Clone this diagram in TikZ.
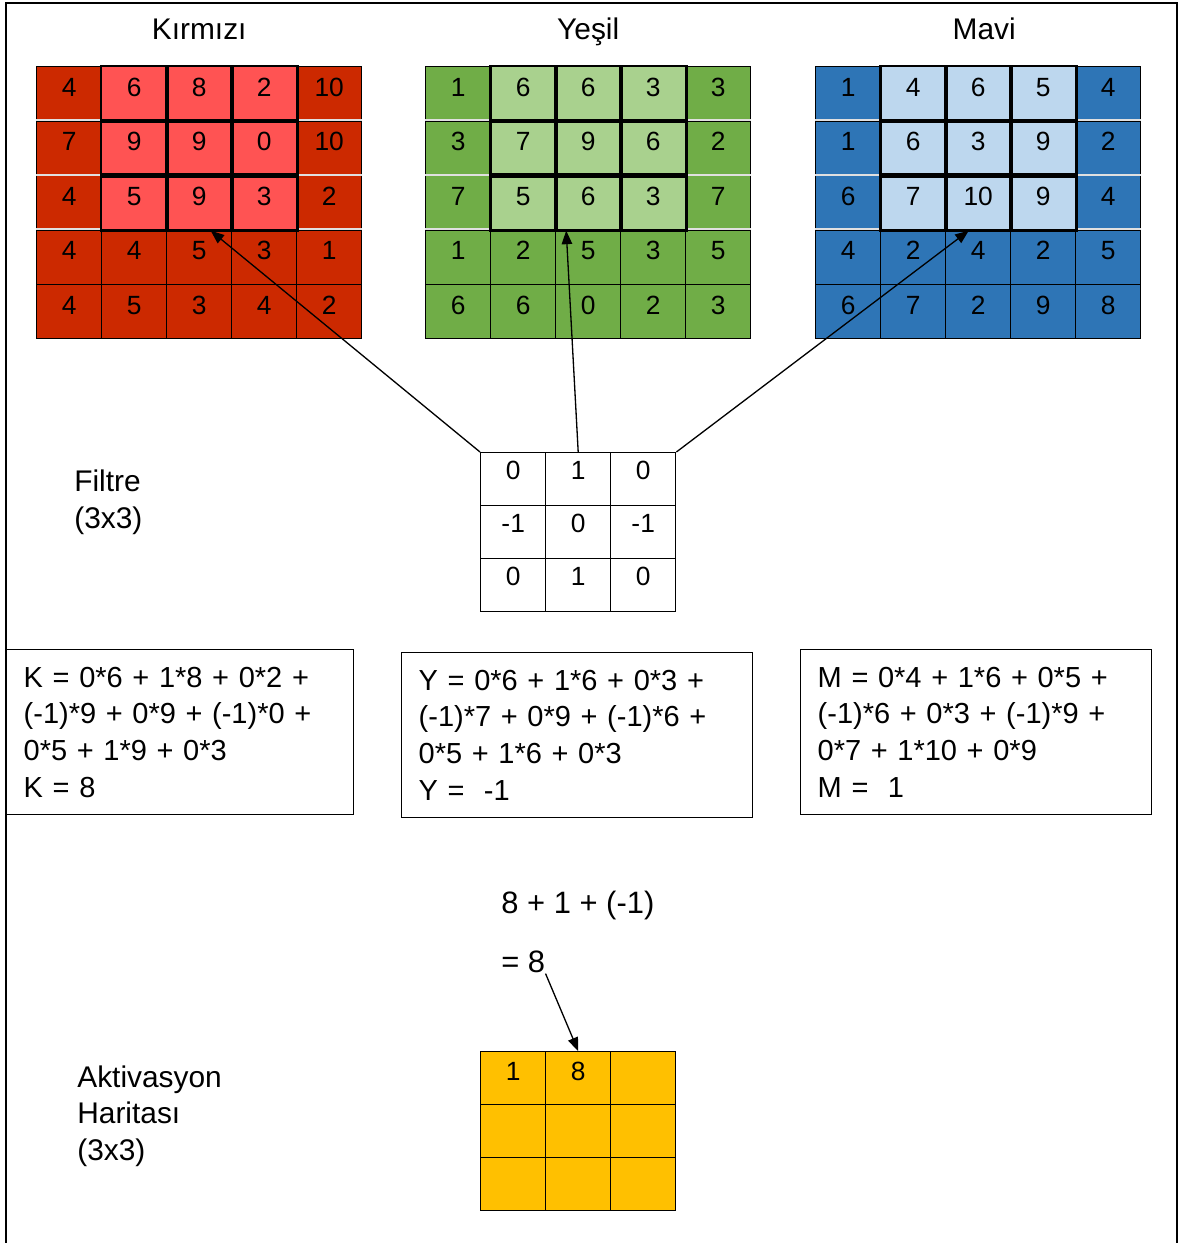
\documentclass[tikz,border=0pt]{standalone}
\usepackage{fontspec}
\setmainfont{Liberation Sans}
\usepackage{tikz}
\usetikzlibrary{arrows.meta,positioning,calc}
\definecolor{ChRedDark}{HTML}{CC2900}
\definecolor{ChRedLight}{HTML}{FF5353}
\definecolor{ChGreenDark}{HTML}{70AD47}
\definecolor{ChGreenLight}{HTML}{A9D18E}
\definecolor{ChBlueDark}{HTML}{2E75B6}
\definecolor{ChBlueLight}{HTML}{BDD7EE}
\definecolor{MapGold}{HTML}{FFC000}
\tikzset{
  gridcell/.style={draw=black,line width=0.8pt,anchor=north west,minimum width=1.3cm,minimum height=1.09cm,inner sep=0pt,text height=11pt,text depth=8pt,font=\fontsize{15}{18}\selectfont},
  smallcell/.style={gridcell,minimum height=1.055cm},
  winline/.style={draw=black,line width=1.7pt},
  sepline/.style={draw=black!12,line width=1.2pt},
  eqbox/.style={draw=black,line width=0.8pt,anchor=north west,align=left,inner xsep=0.34cm,minimum height=3.3cm,font=\fontsize{16.5}{20.9}\selectfont},
  labeltext/.style={anchor=north west,align=left,inner sep=0pt,font=\fontsize{17}{21}\selectfont},
  chtitle/.style={inner sep=0pt,text depth=0pt,font=\fontsize{17}{20}\selectfont},
  convarrow/.style={-{Triangle[length=2.7mm,width=2.1mm]},line width=0.75pt,draw=black},
  frameline/.style={draw=black,line width=1.3pt}
}
% 5x5 channel with the 3x3 window marked
\newcommand{\channelgrid}[5]{%
  \foreach \vals [count=\ri from 0] in {#5}{
    \foreach \v [count=\ci from 0] in \vals{
      \pgfmathtruncatemacro{\inwin}{(\ri<3)&&(\ci>0)&&(\ci<4)}
      \ifnum\inwin=1 \def\cellfill{#4}\else\def\cellfill{#3}\fi
      \node[gridcell,fill=\cellfill] (#1-\ri-\ci) at ({#2+65*\ci},{66+54.4*\ri}) {\v};
    }
  }
  \foreach \ri in {1,2,3}{
    \draw[sepline] (#1-\ri-0.north west) -- (#1-\ri-0.north east);
    \draw[sepline] (#1-\ri-4.north west) -- (#1-\ri-4.north east);
  }
  \foreach \ri in {0,1,2}{\foreach \ci in {1,2,3}{
    \draw[winline] (#1-\ri-\ci.north west) rectangle (#1-\ri-\ci.south east);
  }}
}
% 3x3 grid
\newcommand{\smallgrid}[6]{%
  \foreach \vals [count=\ri from 0] in {#6}{
    \foreach \v [count=\ci from 0] in \vals{
      \node[smallcell,fill=#4,#5] (#1-\ri-\ci) at ({#2+65*\ci},{#3+53*\ri}) {\v};
    }
  }
}
\begin{document}
\begin{tikzpicture}[x=0.02cm,y=-0.02cm]
\useasboundingbox (0,0) rectangle (1179,1243);
\draw[frameline] (6,1243) -- (6,3) -- (1177,3) -- (1177,1243);

% input channels
\channelgrid{k}{36}{ChRedDark}{ChRedLight}{{4,6,8,2,10},{7,9,9,0,10},{4,5,9,3,2},{4,4,5,3,1},{4,5,3,4,2}}
\channelgrid{g}{425}{ChGreenDark}{ChGreenLight}{{1,6,6,3,3},{3,7,9,6,2},{7,5,6,3,7},{1,2,5,3,5},{6,6,0,2,3}}
\channelgrid{b}{815}{ChBlueDark}{ChBlueLight}{{1,4,6,5,4},{1,6,3,9,2},{6,7,10,9,4},{4,2,4,2,5},{6,7,2,9,8}}
\node[chtitle,above=5.2mm of k-0-2.north] (ktitle) {Kırmızı};
\node[chtitle,above=5.2mm of g-0-2.north] (gtitle) {Yeşil};
\node[chtitle,above=5.2mm of b-0-2.north,xshift=1.2mm] (btitle) {Mavi};

% filter
\smallgrid{f}{480}{452}{white}{text depth=10pt}{{0,1,0},{-1,0,-1},{0,1,0}}
\node[labeltext] (flabel) at (74,470) {Filtre\\(3x3)};
\draw[convarrow] (f-0-0.north west) -- ([xshift=2.3mm]k-2-2.south);
\draw[convarrow] (f-0-1.north) -- ([xshift=-4.4mm]g-2-2.south);
\draw[convarrow] (f-0-2.north east) -- ([xshift=-1.9mm]b-2-2.south);

% per channel sums
\node[eqbox,text width=6.26cm] (keq) at (6,649) {K = 0*6 + 1*8 + 0*2 +\\(-1)*9 + 0*9 + (-1)*0 +\\0*5 + 1*9 + 0*3\\K = 8};
\node[eqbox,text width=6.34cm] (geq) at (401,652) {Y = 0*6 + 1*6 + 0*3 +\\(-1)*7 + 0*9 + (-1)*6 +\\0*5 + 1*6 + 0*3\\Y = ~-1};
\node[eqbox,text width=6.34cm] (beq) at (800,649) {M = 0*4 + 1*6 + 0*5 +\\(-1)*6 + 0*3 + (-1)*9 +\\0*7 + 1*10 + 0*9\\M = ~1};

% activation map
\node[labeltext,font=\fontsize{17.6}{21}\selectfont] (total) at (501,891) {8 + 1 + (-1)};
\node[labeltext,font=\fontsize{17.6}{21}\selectfont,below=6.1mm of total.south west,anchor=north west] (result) {= 8};
\smallgrid{m}{480}{1051}{MapGold}{}{{1,8,{}},{{},{},{}},{{},{},{}}}
\node[labeltext] (mlabel) at (77,1065) {Aktivasyon\\Haritası\\(3x3)};
\draw[convarrow] (result.south east) -- (m-0-1.north);
\end{tikzpicture}
\end{document}
